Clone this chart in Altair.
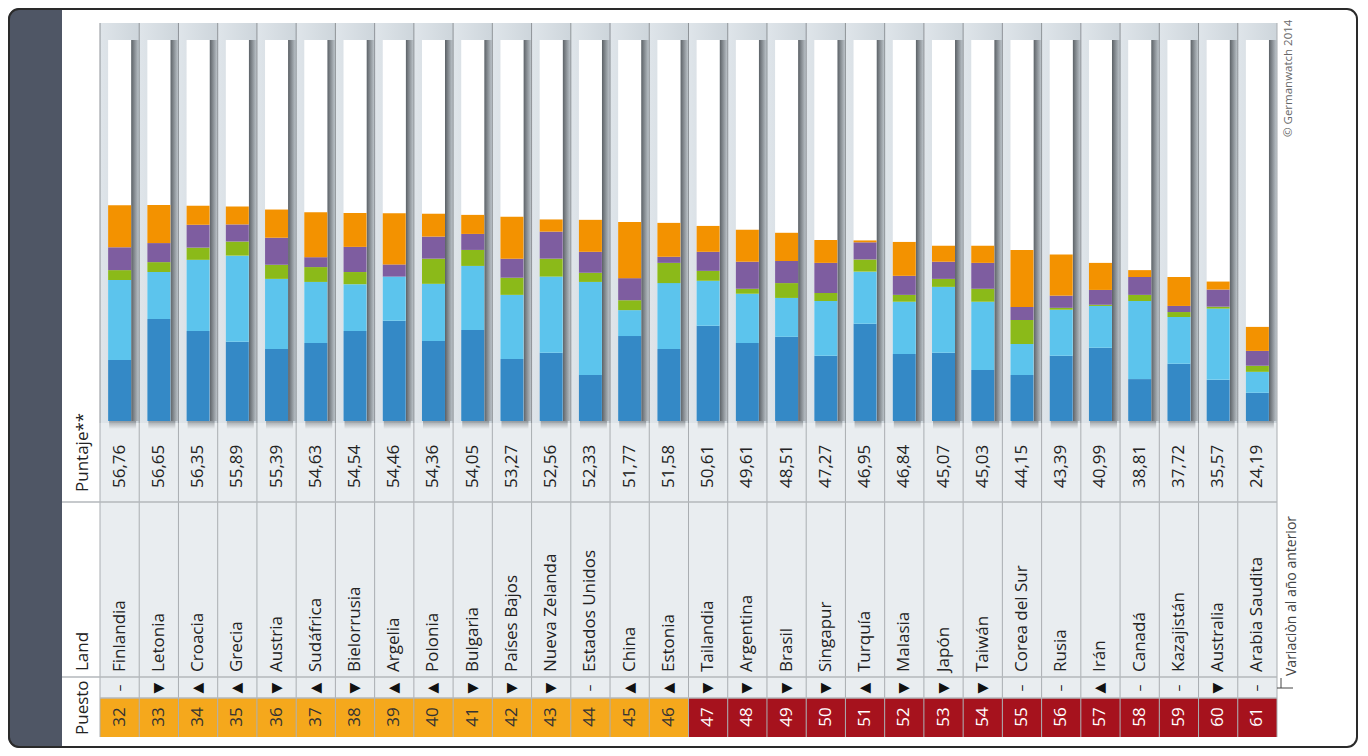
import altair as alt
import pandas as pd

countries = ["Finlandia", "Letonia", "Croacia", "Grecia", "Austria", "Sudáfrica",
             "Bielorrusia", "Argelia", "Polonia", "Bulgaria", "Países Bajos",
             "Nueva Zelanda", "Estados Unidos", "China", "Estonia", "Tailandia",
             "Argentina", "Brasil", "Singapur", "Turquía", "Malasia", "Japón",
             "Taiwán", "Corea del Sur", "Rusia", "Irán", "Canadá", "Kazajistán",
             "Australia", "Arabia Saudita"]
ranks = [32, 33, 34, 35, 36, 37, 38, 39, 40, 41, 42, 43, 44, 45, 46,
         47, 48, 49, 50, 51, 52, 53, 54, 55, 56, 57, 58, 59, 60, 61]
scores = ["56,76", "56,65", "56,35", "55,89", "55,39", "54,63", "54,54", "54,46",
          "54,36", "54,05", "53,27", "52,56", "52,33", "51,77", "51,58", "50,61",
          "49,61", "48,51", "47,27", "46,95", "46,84", "45,07", "45,03", "44,15",
          "43,39", "40,99", "38,81", "37,72", "35,57", "24,19"]
arrows = ["–", "▼", "▲", "▲", "▼", "▲", "▼", "▲", "▲", "▼", "▼", "▼", "–", "▲", "▲",
          "▼", "▼", "▼", "▼", "▲", "▼", "▼", "▼", "–", "–", "▲", "–", "–", "▼", "–"]

dark_blue = [16.0, 26.8, 23.6, 20.8, 18.9, 20.5, 23.6, 26.3, 21.0, 23.9, 16.3, 17.9,
             12.1, 22.3, 18.9, 25.0, 20.5, 22.1, 17.1, 25.5, 17.6, 17.9, 13.4, 12.1,
             17.1, 19.2, 11.0, 15.0, 10.8, 7.4]
light_blue = [21.0, 12.3, 18.7, 22.6, 18.4, 16.0, 12.3, 11.6, 15.0, 16.8, 16.8, 20.0,
              24.4, 6.8, 17.3, 11.8, 12.9, 10.2, 14.4, 13.7, 13.7, 17.3, 17.9, 8.1,
              12.1, 11.0, 20.5, 12.3, 18.7, 5.5]
green = [2.6, 2.6, 3.2, 3.7, 3.7, 3.9, 3.2, 0.0, 6.6, 4.2, 4.5, 4.7,
         2.4, 2.6, 5.3, 2.6, 1.3, 3.9, 2.1, 3.2, 1.8, 2.1, 3.4, 6.3,
         0.5, 0.3, 1.6, 1.3, 0.5, 1.6]
purple = [6.0, 5.0, 6.0, 4.5, 7.1, 2.6, 6.6, 3.2, 5.8, 4.2, 5.0, 7.1,
          5.5, 5.8, 1.6, 5.0, 7.1, 5.8, 7.9, 4.5, 5.0, 4.5, 6.8, 3.4,
          3.2, 3.9, 4.7, 1.6, 4.5, 3.9]
orange = [11.0, 10.0, 5.0, 4.7, 7.4, 11.8, 8.9, 13.4, 6.0, 5.0, 11.0, 3.2,
          8.4, 14.7, 8.9, 6.8, 8.4, 7.4, 6.0, 0.5, 8.9, 4.2, 4.5, 15.0,
          10.8, 7.1, 1.8, 7.6, 2.1, 6.3]

seg_names = ["s1", "s2", "s3", "s4", "s5"]
seg_colors = ["#3489c6", "#5cc4ed", "#8bba19", "#7e5da0", "#f39200"]
seg_arrays = [dark_blue, light_blue, green, purple, orange]

rows = []
for i, c in enumerate(countries):
    for k, (name, arr) in enumerate(zip(seg_names, seg_arrays)):
        rows.append({"land": c, "seg": name, "ord": k, "value": arr[i]})
seg_df = pd.DataFrame(rows)

table_df = pd.DataFrame({
    "land": countries,
    "rank": [str(r) for r in ranks],
    "score": scores,
    "arrow": arrows,
    "grp": ["top" if r <= 46 else "low" for r in ranks],
    "y0": [0] * len(countries),
    "y1": [100] * len(countries),
})
one = pd.DataFrame({"a": [0]})

FONT = "Open Sans"
xs = alt.Scale(domain=countries, range=[92, 1269], paddingInner=0, paddingOuter=0)
X = alt.X("land:N", scale=xs, axis=None)
ys = alt.Scale(domain=[0, 100], range=[413, 32], nice=False)

grad_col = alt.LinearGradient(gradient="linear", x1=0, x2=1, y1=0, y2=0,
                              stops=[alt.GradientStop(offset=0, color="#dfe5ea"),
                                     alt.GradientStop(offset=1, color="#cdd5db")])
grad_sh = alt.LinearGradient(gradient="linear", x1=0, x2=1, y1=0, y2=0,
                             stops=[alt.GradientStop(offset=0, color="rgba(70,75,80,0.85)"),
                                    alt.GradientStop(offset=1, color="rgba(70,75,80,0)")])
grad_shv = alt.LinearGradient(gradient="linear", x1=0, x2=0, y1=0, y2=1,
                              stops=[alt.GradientStop(offset=0, color="rgba(70,75,80,0.45)"),
                                     alt.GradientStop(offset=1, color="rgba(70,75,80,0)")])

base = alt.Chart(table_df)

panel = alt.Chart(one).mark_rect(color="#4f5665", cornerRadiusTopLeft=12,
                                 cornerRadiusBottomLeft=12).encode(
    x=alt.value(0), x2=alt.value(54), y=alt.value(0), y2=alt.value(740))

col_bg = base.mark_rect(color=grad_col).encode(x=X, y=alt.value(15), y2=alt.value(415))
tab_bg = base.mark_rect(color="#e9edf0").encode(x=X, y=alt.value(415), y2=alt.value(690))

white = base.mark_bar(width=23, color="white").encode(
    x=X, y=alt.Y("y0:Q", scale=ys, axis=None), y2="y1:Q")
shadow_r = base.mark_bar(width=9, xOffset=16, color=grad_sh).encode(
    x=X, y=alt.Y("y0:Q", scale=ys, axis=None), y2="y1:Q")
shadow_b = base.mark_bar(width=27, xOffset=3, color=grad_shv).encode(
    x=X, y=alt.value(413), y2=alt.value(421))

segments = alt.Chart(seg_df).mark_bar(width=23).encode(
    x=X,
    y=alt.Y("value:Q", stack="zero", scale=ys, axis=None),
    color=alt.Color("seg:N", scale=alt.Scale(domain=seg_names, range=seg_colors), legend=None),
    order=alt.Order("ord:Q"),
)

rank_top = base.transform_filter(alt.datum.grp == "top").mark_rect(color="#f5a81c").encode(
    x=X, y=alt.value(690), y2=alt.value(729))
rank_low = base.transform_filter(alt.datum.grp == "low").mark_rect(color="#a6121d").encode(
    x=X, y=alt.value(690), y2=alt.value(729))

vsep_chart = base.mark_rule(color="#8e9398", strokeWidth=1).encode(
    x=alt.X("land:N", scale=xs, axis=None, bandPosition=0), y=alt.value(15), y2=alt.value(415))
vsep_tab = base.mark_rule(color="#a9adb1", strokeWidth=1).encode(
    x=alt.X("land:N", scale=xs, axis=None, bandPosition=0), y=alt.value(415), y2=alt.value(729))
vsep_end = base.transform_filter(alt.datum.land == countries[-1]).mark_rule(
    color="#a9adb1", strokeWidth=1).encode(
    x=alt.X("land:N", scale=xs, axis=None, bandPosition=1), y=alt.value(15), y2=alt.value(729))

h1 = alt.Chart(one).mark_rule(color="#b3b7bb", strokeWidth=1.5).encode(
    x=alt.value(54), x2=alt.value(1269), y=alt.value(494))
h2 = alt.Chart(one).mark_rule(color="#b3b7bb", strokeWidth=1.5).encode(
    x=alt.value(54), x2=alt.value(1269), y=alt.value(669))
h3 = alt.Chart(one).mark_rule(color="#b3b7bb", strokeWidth=1.5).encode(
    x=alt.value(92), x2=alt.value(1269), y=alt.value(690))

txt = dict(angle=270, baseline="middle", font=FONT, fontSize=17, color="#222222")
score_t = base.mark_text(align="left", **txt).encode(x=X, y=alt.value(480), text="score:N")
land_t = base.mark_text(align="left", **txt).encode(x=X, y=alt.value(664), text="land:N")
arrow_t = base.mark_text(angle=270, baseline="middle", align="center", font="DejaVu Sans",
                         fontSize=14, color="#111111").encode(x=X, y=alt.value(680), text="arrow:N")
rank_t1 = base.transform_filter(alt.datum.grp == "top").mark_text(
    angle=270, baseline="middle", align="center", font=FONT, fontSize=17, color="#333333").encode(
    x=X, y=alt.value(709), text="rank:N")
rank_t2 = base.transform_filter(alt.datum.grp == "low").mark_text(
    angle=270, baseline="middle", align="center", font=FONT, fontSize=17, color="#ffffff").encode(
    x=X, y=alt.value(709), text="rank:N")

hdr1 = alt.Chart(one).mark_text(align="left", text="Puntaje**", **txt).encode(
    x=alt.value(75), y=alt.value(484))
hdr2 = alt.Chart(one).mark_text(align="left", text="Land", **txt).encode(
    x=alt.value(75), y=alt.value(663))
hdr3 = alt.Chart(one).mark_text(align="left", text="Puesto", **txt).encode(
    x=alt.value(75), y=alt.value(727))

copy_t = alt.Chart(one).mark_text(angle=270, align="left", baseline="middle", font=FONT,
                                  fontSize=11.5, color="#666666", text="© Germanwatch 2014").encode(
    x=alt.value(1281), y=alt.value(129))
var_t = alt.Chart(one).mark_text(angle=270, align="left", baseline="middle", font=FONT,
                                 fontSize=14, color="#444444", text="Variaciòn al año anterior").encode(
    x=alt.value(1284), y=alt.value(668))
L1 = alt.Chart(one).mark_rule(color="#444444", strokeWidth=1).encode(
    x=alt.value(1273), y=alt.value(670), y2=alt.value(680))
L2 = alt.Chart(one).mark_rule(color="#444444", strokeWidth=1).encode(
    x=alt.value(1269), x2=alt.value(1285), y=alt.value(680))

border = alt.Chart(one).mark_rect(fillOpacity=0, stroke="#2a2a2a", strokeWidth=2,
                                  cornerRadius=10).encode(
    x=alt.value(1), x2=alt.value(1349), y=alt.value(1), y2=alt.value(739))

chart = alt.layer(
    panel, col_bg, tab_bg, shadow_r, shadow_b, white, segments,
    rank_top, rank_low, vsep_chart, vsep_tab, vsep_end, h1, h2, h3,
    score_t, land_t, arrow_t, rank_t1, rank_t2, hdr1, hdr2, hdr3,
    copy_t, var_t, L1, L2, border,
).properties(
    width=1352, height=740, padding=0,
    autosize=alt.AutoSizeParams(type="none"),
).configure_view(stroke="transparent")

chart.save("out.html", embed_options={"renderer": "svg", "actions": False})
